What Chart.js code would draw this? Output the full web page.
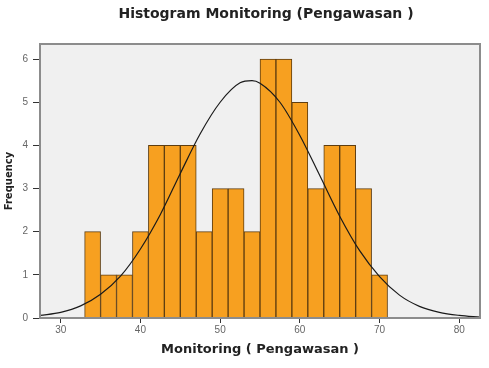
<!DOCTYPE html>
<html>
<head>
<meta charset="utf-8">
<script src="https://cdn.jsdelivr.net/npm/chart.js@4.4.1/dist/chart.umd.min.js"></script>
<style>
  html, body { margin: 0; padding: 0; background: #ffffff; }
  #wrap { width: 489px; height: 368px; }
</style>
</head>
<body>
<div id="wrap"><canvas id="c" width="489" height="368"></canvas></div>
<script>
// Histogram bins (centres of 2-unit wide bins, 33..71)
const binCenters = [34, 36, 38, 40, 42, 44, 46, 48, 50, 52, 54, 56, 58, 60, 62, 64, 66, 68, 70];
const frequencies = [2, 1, 1, 2, 4, 4, 4, 2, 3, 3, 2, 6, 6, 5, 3, 4, 4, 3, 1];

// Normal curve
const curveX = [27.4, 30, 32.5, 35, 37.5, 40, 42.5, 45, 47.5, 50, 52.5, 54, 55, 57.5, 60, 62.5, 65, 67.5, 70, 72.5, 75, 77.5, 80, 82.6];
const curveY = [0.06, 0.13, 0.28, 0.55, 0.97, 1.6, 2.4, 3.35, 4.27, 5.0, 5.45, 5.5, 5.44, 5.0, 4.23, 3.3, 2.36, 1.56, 0.96, 0.53, 0.27, 0.13, 0.06, 0.02];

const xTicks = [30, 40, 50, 60, 70, 80];
const yTicks = [0, 1, 2, 3, 4, 5, 6];

const titleText = 'Histogram Monitoring (Pengawasan )';
const xTitle = 'Monitoring ( Pengawasan )';
const yTitle = 'Frequency';

const frame = {
  id: 'frame',
  beforeDatasetsDraw(chart) {
    const a = chart.chartArea, ctx = chart.ctx;
    ctx.save();
    ctx.fillStyle = '#f0f0f0';
    ctx.fillRect(a.left, a.top, a.right - a.left, a.bottom - a.top);
    ctx.restore();
  },
  afterDatasetsDraw(chart) {
    const a = chart.chartArea, ctx = chart.ctx;
    ctx.save();
    ctx.strokeStyle = '#8c8c8c';
    ctx.lineWidth = 2;
    ctx.strokeRect(a.left, a.top, a.right - a.left, a.bottom - a.top);
    ctx.restore();
  }
};

const topTitle = {
  id: 'topTitle',
  afterDraw(chart) {
    const ctx = chart.ctx;
    ctx.save();
    ctx.fillStyle = '#222';
    ctx.font = 'bold 14px "DejaVu Sans"';
    ctx.textAlign = 'center';
    ctx.textBaseline = 'middle';
    ctx.fillText(titleText, 266, 14);
    ctx.restore();
  }
};

new Chart(document.getElementById('c'), {
  data: {
    datasets: [
      {
        type: 'line',
        order: 0,
        data: curveX.map((x, i) => ({ x: x, y: curveY[i] })),
        borderColor: '#1a1a1a',
        borderWidth: 1.2,
        pointRadius: 0,
        cubicInterpolationMode: 'monotone',
        fill: false
      },
      {
        type: 'bar',
        order: 1,
        data: binCenters.map((x, i) => ({ x: x, y: frequencies[i] })),
        backgroundColor: '#f7a020',
        borderColor: '#5e3d10',
        borderWidth: 1,
        barPercentage: 1,
        categoryPercentage: 1
      }
    ]
  },
  options: {
    responsive: false,
    animation: false,
    layout: { padding: { left: 0, right: 9, top: 44, bottom: 0 } },
    plugins: {
      legend: { display: false },
      tooltip: { enabled: false },
      title: { display: false }
    },
    scales: {
      x: {
        type: 'linear',
        min: 27.4,
        max: 82.6,
        offset: false,
        afterBuildTicks: (s) => { s.ticks = xTicks.map(v => ({ value: v })); },
        afterFit: (s) => { s.height = 50; },
        grid: { offset: false, drawOnChartArea: false, drawTicks: true, tickLength: 5, tickColor: '#333' },
        border: { display: false },
        ticks: { color: '#666', font: { family: 'Liberation Sans', size: 10 }, padding: 1, maxRotation: 0 },
        title: {
          display: true,
          text: xTitle,
          color: '#222',
          font: { family: 'DejaVu Sans', size: 13, weight: 'bold' },
          padding: { top: 0, bottom: 11 }
        }
      },
      y: {
        min: 0,
        max: 6.35,
        afterBuildTicks: (s) => { s.ticks = yTicks.map(v => ({ value: v })); },
        afterFit: (s) => { s.width = 40; },
        grid: { drawOnChartArea: false, drawTicks: true, tickLength: 7, tickColor: '#333' },
        border: { display: false },
        ticks: { color: '#666', font: { family: 'Liberation Sans', size: 10 }, padding: 5 },
        title: {
          display: true,
          text: yTitle,
          color: '#222',
          font: { family: 'DejaVu Sans', size: 10, weight: 'bold' },
          padding: { top: 3, bottom: 0 }
        }
      }
    }
  },
  plugins: [frame, topTitle]
});
</script>
</body>
</html>
